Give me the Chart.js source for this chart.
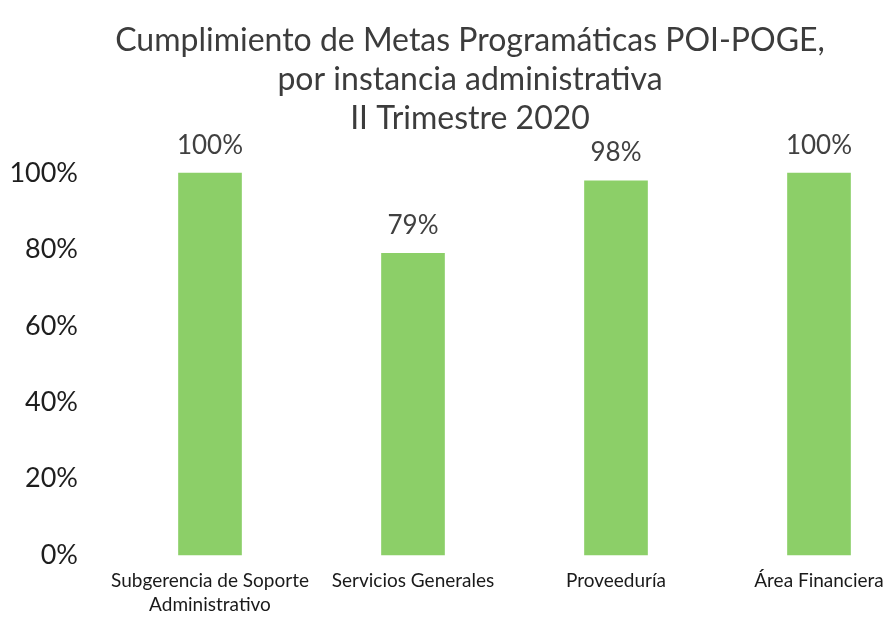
<!DOCTYPE html>
<html>
<head>
<meta charset="utf-8">
<script src="https://cdn.jsdelivr.net/npm/chart.js@4/dist/chart.umd.min.js"></script>
<style>
  html, body { margin: 0; padding: 0; background: #fff; overflow: hidden; }
  #wrap { width: 886px; height: 617px; }
</style>
</head>
<body>
<div id="wrap"><canvas id="chart" width="886" height="617"></canvas></div>
<script>
// data
const categories = [['Subgerencia de Soporte', 'Administrativo'], 'Servicios Generales', 'Proveeduría', 'Área Financiera'];
const cumplimiento = [100, 79, 98, 100];
const titleLines = ['Cumplimiento de Metas Programáticas POI-POGE,', 'por instancia administrativa', 'II Trimestre 2020'];

const FONT = 'Lato, "Open Sans", sans-serif';

// labels above each bar, drawn from the bar elements
const barLabels = {
  id: 'barLabels',
  afterLayout(c) {
    // title sits a bit right of the canvas centre in the original
    if (c.titleBlock) c.titleBlock.left = 54;
  },
  afterDatasetsDraw(c) {
    const ctx = c.ctx;
    const meta = c.getDatasetMeta(0);
    ctx.save();
    ctx.font = '26px ' + FONT;
    ctx.fillStyle = '#404040';
    ctx.textAlign = 'center';
    ctx.textBaseline = 'middle';
    meta.data.forEach((bar, i) => {
      ctx.fillText(cumplimiento[i] + '%', bar.x, bar.y - 28);
    });
    ctx.restore();
  }
};

const ctx = document.getElementById('chart').getContext('2d');
const chart = new Chart(ctx, {
  type: 'bar',
  data: {
    labels: categories,
    datasets: [{
      data: cumplimiento,
      backgroundColor: '#8ccf68',
      barThickness: 63,
      clip: false
    }]
  },
  options: {
    responsive: false,
    animation: false,
    layout: { padding: { top: 21, right: 0, bottom: 0, left: 0 } },
    plugins: {
      legend: { display: false },
      tooltip: { enabled: false },
      title: {
        display: true,
        text: titleLines,
        color: '#3c3c3c',
        font: { family: FONT, size: 32, weight: 'normal', lineHeight: 1.22 },
        padding: { top: 0, bottom: 35 }
      }
    },
    scales: {
      x: {
        offset: false,
        grid: { display: false, drawTicks: false },
        border: { display: false },
        ticks: {
          color: '#1a1a1a',
          font: { family: FONT, size: 19, lineHeight: 1.26 },
          padding: 14,
          maxRotation: 0,
          minRotation: 0,
          autoSkip: false
        },
        afterFit: s => { s.height = 62; s.paddingLeft = 0; s.paddingRight = 67; }
      },
      y: {
        min: 0,
        max: 100,
        grid: { display: false, drawTicks: false },
        border: { display: false },
        ticks: {
          stepSize: 20,
          color: '#1e1e1e',
          font: { family: FONT, size: 27 },
          padding: 132,
          callback: v => v + '%'
        },
        afterFit: s => { s.width = 210; s.paddingTop = 0; s.paddingBottom = 0; }
      }
    }
  },
  plugins: [barLabels]
});
</script>
</body>
</html>
